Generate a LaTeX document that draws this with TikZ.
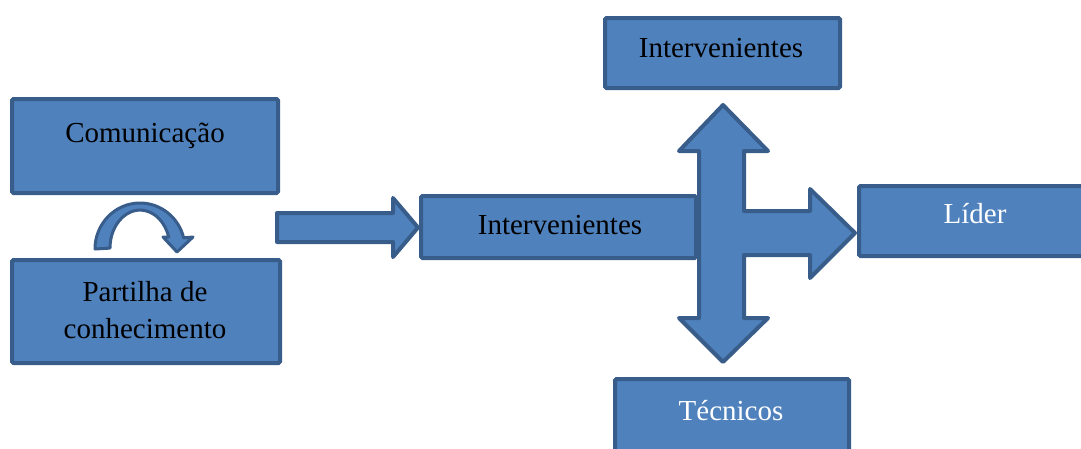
\documentclass[tikz,border=0pt]{standalone}
\usepackage{fontspec}
\setmainfont{Liberation Serif}
\definecolor{boxfill}{HTML}{4F81BD}
\definecolor{boxline}{HTML}{385D8A}
\begin{document}
\begin{tikzpicture}[x=1pt,y=-1pt,
  box/.style={draw=boxline, fill=boxfill, line width=4pt, rounded corners=1.5pt, inner sep=0pt},
  blockarrow/.style={draw=boxline, fill=boxfill, line width=4pt, line join=round},
  txt/.style={inner sep=0pt, font=\fontsize{29}{37}\selectfont, text=black},
  wtxt/.style={txt, text=white}]
\useasboundingbox (0,0) rectangle (1081,448);
% boxes
\node[box, minimum width=266, minimum height=94] (comm) at (145,146) {};
\node[box, minimum width=268, minimum height=103] (part) at (146,311.5) {};
\node[box, minimum width=275, minimum height=62] (mid) at (558.5,227) {};
\node[box, minimum width=235, minimum height=70] (top) at (722.5,53) {};
\node[box, minimum width=236, minimum height=70] (lider) at (977,221) {};
\node[box, minimum width=234, minimum height=90] (tec) at (732,424) {};
% texts
\node[txt, anchor=base] (commt) at (145,142) {Comunicação};
\node[txt, anchor=base] (partt1) at (145,301) {Partilha de};
\node[txt, anchor=base] (partt2) at (145,338) {conhecimento};
\node[txt, anchor=base] (midt) at (560,234) {Intervenientes};
\node[txt, anchor=base] (topt) at (721,57) {Intervenientes};
\node[wtxt, anchor=base] (lidert) at (975,223) {Líder};
\node[wtxt, anchor=base] (tect) at (731,420) {Técnicos};
% curved arrow
\draw[blockarrow, line width=3pt] (95,249) arc[start angle=180,end angle=14,x radius=45pt,y radius=46pt]
  -- (193,237) -- (177,252) -- (163,237) -- (168.7,237)
  arc[start angle=17,end angle=180,x radius=30pt,y radius=38pt] -- cycle;
% right arrow to middle box
\draw[blockarrow] (277,213) -- (393,213) -- (393,198) -- (418,227.5) -- (393,257) -- (393,242) -- (277,242) -- cycle;
% cross arrow
\draw[blockarrow] (723,105) -- (768,151) -- (744,151) -- (744,211) -- (810,211) -- (810,189) -- (855,233)
  -- (810,278) -- (810,255) -- (744,255) -- (744,318) -- (768,318) -- (723,362) -- (679,318)
  -- (699,318) -- (699,151) -- (679,151) -- cycle;
\end{tikzpicture}
\end{document}
